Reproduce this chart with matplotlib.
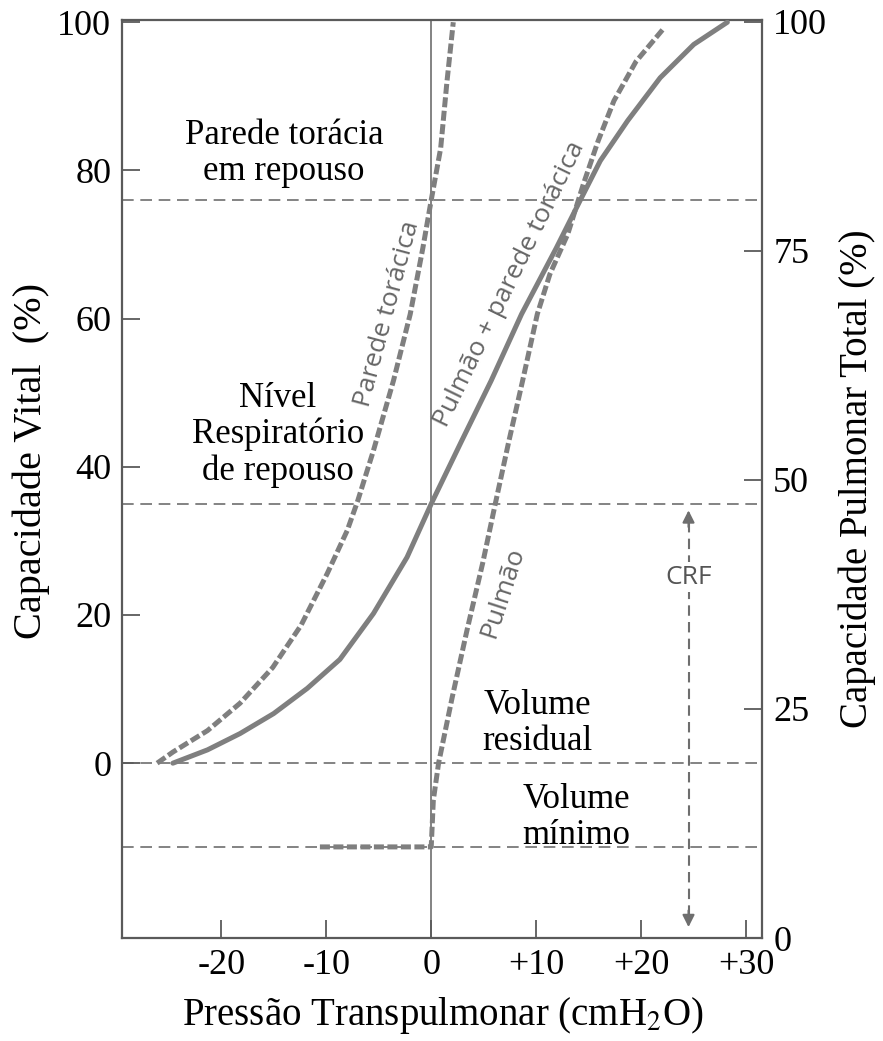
import matplotlib.pyplot as plt

# valores (pressao em cmH2O, volume em % da capacidade vital)
parede_p = [-26.1, -24.6, -21.3, -18.2, -15.1, -12.4, -9.9, -8.0, -7.0, -5.5,
            -3.6, -2.0, -0.8, 0.0, 0.9, 1.5, 2.1]
parede_v = [0, 1.5, 4.4, 8.1, 12.9, 18.6, 25.6, 31.4, 35.4, 42.2,
            51.6, 60.6, 69.5, 76.0, 83.0, 92.0, 100]

total_p = [-24.6, -21.3, -18.2, -15.0, -11.8, -8.7, -5.5, -2.3, 0.0, 2.9,
           5.7, 8.6, 11.9, 14.2, 16.1, 18.7, 21.8, 25.0, 28.2]
total_v = [0, 1.8, 4.0, 6.7, 10.1, 14.0, 20.2, 27.8, 35.0, 43.5,
           51.6, 60.6, 69.5, 76.0, 81.3, 86.7, 92.5, 97.0, 100]

pulmao_p = [-10.6, 0.0, 0.2, 0.7, 2.0, 3.4, 4.9, 6.1, 7.4, 8.7, 10.1,
            11.3, 13.0, 14.5, 15.9, 17.4, 19.5, 22.1]
pulmao_v = [-11.3, -11.3, -5.0, 0, 8.9, 17.9, 27.0, 35.0, 43.5, 51.6, 60.6,
            66.0, 71.4, 78.2, 84.0, 89.4, 94.7, 99.1]

niveis = [76, 35, 0, -11.3]          # linhas horizontais tracejadas
crf_p = 24.5
crf_v = [34.5, -22.5]

xticks = [-20, -10, 0, 10, 20, 30]
xticklabels = ['-20', '-10', '0', '+10', '+20', '+30']
yticks = [0, 20, 40, 60, 80, 100]
yticks_dir = [0, 25, 50, 75, 100]

plt.rcParams['font.family'] = ['Liberation Serif', 'DejaVu Serif']
plt.rcParams['mathtext.fontset'] = 'stix'

curva = '#7f7f7f'
linha = '#6e6e6e'
eixo = '#5a5a5a'

fig = plt.figure(figsize=(8.83, 10.41), dpi=100)
ax = fig.add_axes([0.1387, 0.0989, 0.7243, 0.8819])

ax.set_xlim(-29.4, 31.5)
ax.set_ylim(-23.6, 100.3)

for v in niveis:
    ax.axhline(v, color=linha, lw=1.2, dashes=(7, 4), zorder=1)
ax.axvline(0, color=linha, lw=1.2, zorder=1)

ax.plot(parede_p, parede_v, color=curva, lw=3.6, dashes=(2.0, 0.7),
        solid_joinstyle='round', zorder=3)
ax.plot(total_p, total_v, color=curva, lw=3.6, solid_capstyle='round',
        solid_joinstyle='round', zorder=3)
ax.plot(pulmao_p, pulmao_v, color=curva, lw=3.6, dashes=(2.0, 0.7),
        solid_joinstyle='round', zorder=3)

# seta CRF
ax.plot([crf_p, crf_p], [crf_v[0] - 2, crf_v[1] + 2], color=linha, lw=1.5,
        dashes=(5, 3), zorder=2)
for a, b in [(crf_v[0] - 3, crf_v[0]), (crf_v[1] + 3, crf_v[1])]:
    ax.annotate('', xy=(crf_p, b), xytext=(crf_p, a),
                arrowprops=dict(arrowstyle='-|>', color=linha, lw=1.5,
                                mutation_scale=18))
ax.text(crf_p, 25.1, 'CRF', color='#555555', fontsize=19, family='Open Sans',
        ha='center', va='center', zorder=4,
        bbox=dict(boxstyle='square,pad=0.1', fc='white', ec='none'))

# textos das curvas
ct = dict(family='Open Sans', fontsize=19, color='#666666', ha='center',
          va='center', rotation_mode='anchor')
ax.text(-4.2, 60.6, 'Parede torácica', rotation=75, **ct)
ax.text(7.5, 64.6, 'Pulmão + parede torácica', rotation=64, **ct)
ax.text(6.8, 23.0, 'Pulmão', rotation=72, **ct)

# textos de anotacao
tk = dict(fontsize=25, color='black', ha='center', va='center', linespacing=1.12)
ax.text(-14.0, 82.3, 'Parede torácia\nem repouso', **tk)
ax.text(-14.6, 44.3, 'Nível\nRespiratório\nde repouso', **tk)
ax.text(10.1, 5.4, 'Volume\nresidual', **tk)
ax.text(13.8, -7.3, 'Volume\nmínimo', **tk)

ax.set_xticks(xticks)
ax.set_xticklabels(xticklabels)
ax.set_yticks(yticks)
ax.tick_params(direction='in', length=13, width=1.3, color=eixo,
               labelsize=26, pad=8)
ax.tick_params(axis='x', pad=8)
for s in ax.spines.values():
    s.set_color(eixo)
    s.set_linewidth(1.6)

ax.set_xlabel('Pressão Transpulmonar (cmH$_2$O)', fontsize=28, labelpad=9)
ax.set_ylabel('Capacidade Vital  (%)', fontsize=29, labelpad=5)
ax.yaxis.label.set_y(0.52)

ax2 = ax.twinx()
ax2.set_ylim(0, 100.2)
ax2.set_yticks(yticks_dir)
ax2.tick_params(direction='in', length=13, width=1.3, color=eixo,
                labelsize=26, pad=8)
for s in ax2.spines.values():
    s.set_visible(False)
ax2.set_ylabel('Capacidade Pulmonar Total (%)', fontsize=28, labelpad=8)

fig.savefig('out.png', dpi=100)
